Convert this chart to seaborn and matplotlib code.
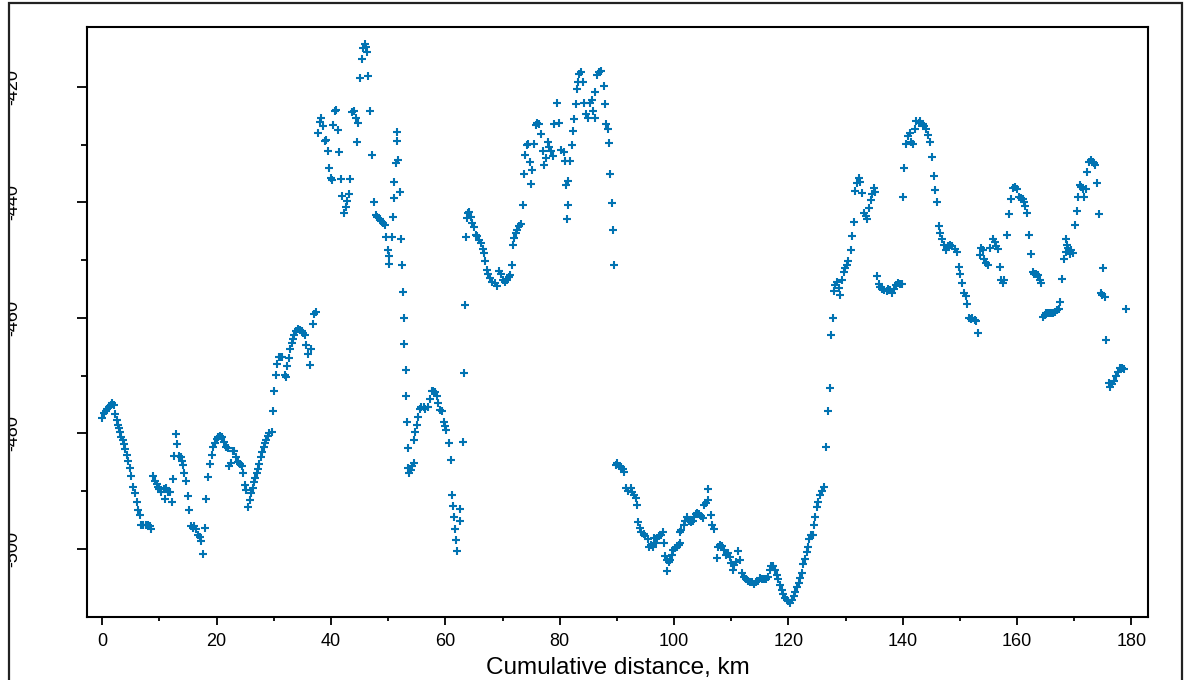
import matplotlib
matplotlib.use("Agg")
import matplotlib.pyplot as plt
import seaborn as sns
import pandas as pd
from matplotlib.ticker import MultipleLocator, FixedLocator
from matplotlib.patches import Rectangle

# ---- data ----
distance_km = [
    0.0, 0.3, 0.6, 0.9, 1.2, 1.5, 1.75, 2.0, 2.3, 2.5, 2.75, 2.9, 3.1, 3.3, 3.55, 3.8, 3.9, 4.25, 4.5, 4.8,
    5.1, 5.4, 5.7, 6.0, 6.3, 6.6, 6.8, 7.2, 7.6, 8.0, 8.35, 8.6, 8.9, 9.2, 9.5, 9.75, 10.0, 10.3, 10.8, 10.9,
    11.2, 11.5, 11.8, 12.1, 12.3, 12.55, 12.9, 13.1, 13.4, 13.7, 13.95, 14.1, 14.3, 14.6, 14.9, 15.2, 15.5, 15.8, 16.1, 16.4,
    16.75, 17.0, 17.3, 17.6, 17.9, 18.2, 18.5, 18.85, 19.1, 19.4, 19.7, 20.0, 20.3, 20.6, 20.9, 21.3, 21.6, 21.9, 22.2, 22.5,
    22.8, 23.1, 23.4, 23.75, 24.1, 24.5, 24.65, 24.9, 25.2, 25.45, 25.75, 26.0, 26.3, 26.5, 26.75, 27.0, 27.2, 27.45, 27.7, 27.95,
    28.2, 28.4, 28.7, 29.0, 29.2,
    29.6, 29.8, 30.0, 30.3, 30.6, 30.9, 31.2, 31.5, 31.9, 32.1, 32.3, 32.6, 32.8, 33.1, 33.3, 33.6, 33.9, 34.2, 34.6, 34.85,
    35.1, 35.4, 35.7, 35.95, 36.3, 36.5, 36.8, 37.1, 37.4,
    37.7, 38.0, 38.3, 38.6, 38.9, 39.2, 39.5, 39.7, 40.0, 40.2, 40.3, 40.7, 40.9, 41.2, 41.4, 41.7, 42.0, 42.3, 42.6, 42.8,
    43.1, 43.4, 43.7, 43.95, 44.3, 44.6, 44.8, 45.1, 45.4, 45.6, 45.9, 46.2, 46.35, 46.5, 46.8, 47.2, 47.5, 47.8, 48.1, 48.5,
    48.8, 49.1, 49.4, 49.6, 50.0, 50.2, 50.1, 50.6, 50.85, 51.0, 51.1, 51.3, 51.5, 51.6, 51.7, 52.1, 52.25, 52.4, 52.6, 52.7,
    52.8, 53.1, 53.2, 53.3, 53.4, 53.5, 53.7, 53.95, 54.2, 54.5, 54.5, 54.75, 55.0, 55.2, 55.5, 55.8, 56.2, 56.5, 56.9, 57.3,
    57.6, 57.9, 58.2, 58.5, 58.8, 59.1, 59.4, 59.7, 59.95, 60.2, 60.6, 60.9, 61.1, 61.3, 61.5, 61.7, 61.9, 62.0,
    62.6, 62.6, 63.0, 63.2, 63.4, 63.6, 63.75, 63.9, 64.15, 64.4, 64.7, 65.0, 65.3, 65.6, 65.96, 66.2, 66.5, 66.7, 67.0, 67.25,
    67.5, 67.8, 68.2, 68.65, 69.1, 69.4, 69.7, 70.05, 70.4, 70.75, 71.1, 71.3, 71.6, 71.75, 72.0, 72.3, 72.6, 72.9, 73.2, 73.5,
    73.8, 74.0, 74.25, 74.5, 74.8, 75.1, 75.0, 75.5, 75.8, 76.1, 76.4, 76.7, 77.0, 77.3, 77.6, 77.9, 78.2, 78.5, 78.9, 79.0,
    79.5, 79.9, 80.3, 80.7, 80.9, 81.1, 81.5, 81.5, 81.3, 81.8, 82.1, 82.4, 82.5, 82.8, 83.0, 83.2, 83.4, 83.8, 84.1, 84.2,
    84.6, 84.9, 85.3, 85.6, 85.9, 86.2, 86.2, 86.5, 86.9, 87.3, 87.7, 87.9, 88.15, 88.4, 88.7, 88.8, 89.1, 89.3, 89.5, 89.8,
    90.1, 90.4, 90.7, 91.0, 91.3, 91.6, 91.9,
    92.45, 92.7, 93.0, 93.3, 93.5, 93.7, 94.0, 94.3, 94.7, 95.0, 95.4, 95.7, 96.0, 96.25, 96.5, 96.8, 97.1, 97.4, 97.7, 98.0,
    98.3, 98.5, 98.8, 98.8, 99.05, 99.3, 99.6, 99.9, 100.2, 100.5, 100.8, 101.1, 101.1, 101.3, 101.7, 102.0, 102.25, 102.7, 103.0, 103.25,
    103.5, 103.8, 104.1, 104.4, 104.7, 105.0, 105.3, 105.6, 105.9, 106.0, 106.5, 106.7, 107.05, 107.5, 107.75, 108.1, 108.45, 108.8, 109.1, 109.4,
    109.7, 110.0, 110.25, 110.55, 110.85, 111.1, 111.5, 111.8, 112.2, 112.6, 112.9, 113.2, 113.6, 113.9, 114.3, 114.6, 115.0, 115.3, 115.7, 116.0,
    116.4, 116.7, 117.0, 117.3, 117.7, 118.0, 118.25, 118.5, 118.8, 119.1, 119.4, 119.7, 120.0, 120.35, 120.7, 120.95, 121.2, 121.5, 121.8, 122.1,
    122.3, 122.6, 122.9, 123.2, 123.4, 123.6, 123.9,
    124.3, 124.45, 124.7, 125.0, 125.25, 125.55, 125.8, 126.2, 126.6, 126.9, 127.2, 127.5, 127.8, 128.0, 128.2, 128.5, 128.8, 129.1, 129.3, 129.7,
    129.9, 130.3, 130.5, 130.9, 131.1, 131.4, 131.7, 132.0, 132.3, 132.6, 132.9, 133.2, 133.5, 133.8, 134.1, 134.4, 134.6, 134.9, 135.2, 135.5,
    135.8, 136.1, 136.4, 136.8, 137.2, 137.5, 137.8, 138.1, 138.45, 138.8, 139.2, 139.5, 139.85, 140.0, 140.3, 140.55, 140.9, 141.2, 141.5, 141.8,
    142.1, 142.4, 142.8, 143.1, 143.5, 143.8, 144.1, 144.4, 144.7, 145.1, 145.4, 145.7, 146.0, 146.3, 146.6, 146.85, 147.15, 147.5, 147.9, 148.3,
    148.7, 149.2, 149.5, 149.8, 150.1, 150.4, 150.7, 151.0, 151.2, 151.6, 151.9, 152.2, 152.6, 152.9, 153.2, 153.5, 153.7, 154.0, 154.3, 154.6,
    154.9, 155.3,
    155.8, 156.1, 156.4, 156.7, 156.95, 157.2, 157.5, 157.8, 158.2, 158.5, 158.9, 159.2, 159.6, 159.9, 160.3, 160.6, 161.0, 161.2, 161.4, 161.7,
    162.0, 162.4, 162.7, 163.0, 163.3, 163.6, 164.0, 164.25, 164.5, 164.8, 165.1, 165.4, 165.7, 166.0, 166.3, 166.6, 166.9, 167.3, 167.5, 167.9,
    168.2, 168.6, 168.9, 169.3, 169.5, 169.8, 168.6, 168.8, 170.1, 170.4, 170.7, 171.0, 171.25, 171.6, 172.0, 171.7, 172.3, 172.6, 172.9, 173.2,
    173.5, 173.7, 174.0, 174.3, 174.6, 174.9, 175.3, 175.05, 175.6, 176.0, 176.3, 176.6, 176.95, 177.3, 177.7, 178.0, 178.4, 178.7, 179.0,
]

value = [
    -477.4, -476.5, -476.1, -475.8, -475.5, -475.1, -474.8, -475.0, -476.7, -477.7, -478.5, -479.0, -479.7, -480.6, -481.1, -481.8, -482.7, -483.7, -484.7, -486.0,
    -487.4, -489.2, -490.4, -491.8, -493.2, -494.2, -495.8, -495.9, -495.9, -495.9, -496.0, -496.5, -487.4, -488.3, -488.7, -489.2, -489.7, -490.1, -489.7, -491.3,
    -489.5, -490.1, -490.2, -491.9, -487.9, -483.9, -480.1, -481.8, -483.9, -484.1, -484.7, -485.4, -486.9, -488.2, -490.9, -493.2, -496.0, -496.3, -496.1, -496.5,
    -497.6, -498.0, -498.6, -500.9, -496.4, -491.3, -487.5, -485.3, -483.8, -482.4, -481.6, -481.0, -480.7, -480.4, -480.7, -481.4, -482.3, -482.6, -485.6, -485.2,
    -483.1, -483.1, -484.0, -485.0, -485.3, -485.6, -486.9, -488.9, -489.8, -492.7, -491.5, -490.4, -489.5, -488.5, -487.8, -486.9, -486.2, -485.3, -484.1, -483.3,
    -482.3, -481.7, -481.1, -480.5, -479.9,
    -479.7, -476.1, -472.7, -469.8, -468.0, -466.8, -466.7, -466.8, -469.8, -470.3, -468.3, -467.0, -465.3, -464.4, -463.7, -462.9, -462.3, -461.9, -462.1, -462.3,
    -462.6, -462.9, -464.7, -466.2, -468.2, -465.3, -461.1, -459.3, -458.9,
    -427.95, -426.0, -425.3, -426.8, -429.3, -429.2, -431.0, -434.1, -435.7, -436.1, -426.5, -424.2, -423.9, -427.5, -431.2, -436.0, -438.9, -441.9, -440.7, -439.7,
    -438.5, -436.0, -424.4, -424.1, -425.4, -429.5, -426.3, -418.5, -415.1, -413.3, -412.5, -413.0, -414.0, -418.1, -424.1, -431.7, -439.9, -442.2, -442.5, -442.8,
    -443.2, -443.5, -443.9, -445.9, -448.3, -449.3, -450.7, -445.9, -442.5, -439.2, -436.5, -433.2, -429.3, -427.8, -432.6, -438.1, -446.4, -450.9, -455.5, -460.0,
    -464.5, -469.1, -473.5, -478.0, -482.6, -486.0, -486.9, -486.3, -485.7, -485.1, -481.2, -479.8, -478.5, -477.1, -475.8, -475.5, -475.5, -475.7, -475.5, -474.0,
    -472.7, -472.7, -472.8, -473.6, -474.7, -475.9, -476.2, -478.1, -478.7, -479.4, -481.7, -484.6, -490.6, -492.5, -494.4, -496.5, -498.5, -500.4,
    -493.1, -495.1, -481.4, -469.6, -457.8, -445.9, -442.7, -441.9, -441.6, -442.5, -443.5, -444.3, -445.6, -445.8, -446.5, -447.1, -448.0, -448.8, -450.2, -451.7,
    -452.3, -453.1, -453.7, -454.0, -454.5, -451.9, -452.3, -453.4, -453.7, -453.4, -452.9, -452.5, -450.9, -447.3, -446.1, -445.3, -444.7, -444.1, -443.7, -440.4,
    -435.1, -431.85, -430.1, -429.8, -432.9, -434.3, -436.8, -429.9, -426.6, -426.2, -426.4, -428.1, -431.0, -433.5, -432.3, -429.5, -430.4, -431.05, -432.0, -426.4,
    -422.8, -426.2, -430.9, -431.2, -432.8, -437.0, -436.3, -440.5, -442.8, -432.8, -430.1, -427.6, -425.6, -423.0, -420.4, -419.1, -417.7, -417.4, -419.1, -422.7,
    -424.7, -425.3, -422.8, -422.3, -424.2, -425.4, -420.8, -418.0, -417.4, -417.25, -419.9, -422.9, -426.4, -427.2, -429.7, -435.1, -440.1, -444.8, -450.75, -485.4,
    -485.1, -485.6, -485.9, -486.2, -486.7, -489.5, -490.0,
    -489.5, -490.1, -490.6, -491.2, -492.4, -495.4, -496.4, -497.0, -497.4, -497.8, -498.3, -499.6, -499.3, -499.6, -498.1, -499.0, -498.1, -497.8, -497.6, -497.0,
    -499.0, -501.2, -501.9, -503.9, -502.2, -501.9, -501.0, -500.2, -499.9, -499.6, -499.3, -499.0, -497.0, -496.7, -495.8, -495.1, -494.5, -495.1, -495.4, -495.2,
    -494.4, -493.9, -493.8, -494.0, -494.3, -494.7, -492.4, -492.1, -491.5, -489.65, -494.1, -495.8, -496.6, -501.6, -499.6, -499.3, -499.5, -500.2, -501.0, -500.7,
    -501.4, -502.5, -503.6, -502.75, -502.2, -500.4, -501.9, -504.2, -504.9, -505.3, -505.6, -505.8, -505.8, -506.0, -505.8, -505.5, -505.1, -505.3, -505.2, -505.3,
    -504.8, -503.6, -502.9, -503.0, -503.7, -504.5, -505.3, -506.2, -507.1, -507.9, -508.5, -508.8, -509.1, -509.3, -508.9, -508.2, -507.4, -506.6, -505.9, -505.1,
    -504.2, -502.7, -501.8, -500.6, -499.7, -498.3, -497.6,
    -497.6, -495.8, -494.4, -492.8, -491.8, -490.6, -489.9, -489.2, -482.3, -476.2, -472.2, -462.9, -460.0, -455.4, -454.3, -453.7, -454.85, -456.0, -453.4, -452.0,
    -451.4, -450.8, -450.1, -448.3, -445.8, -443.3, -437.95, -436.6, -435.8, -436.4, -438.3, -441.9, -442.3, -442.9, -441.0, -439.6, -438.5, -437.5, -438.1, -452.8,
    -454.1, -454.6, -455.0, -455.1, -455.3, -454.9, -455.1, -455.6, -455.0, -454.3, -454.0, -454.2, -454.1, -439.1, -434.0, -429.9, -428.5, -428.0, -429.5, -429.9,
    -427.2, -425.8, -426.2, -425.8, -426.4, -426.75, -427.2, -428.3, -429.5, -432.2, -435.4, -437.9, -439.85, -444.1, -445.3, -446.4, -447.35, -448.3, -447.6, -447.35,
    -447.6, -448.1, -448.5, -451.1, -452.3, -453.9, -455.6, -456.2, -457.6, -460.0, -460.2, -460.0, -460.4, -460.6, -462.6, -449.1, -447.9, -448.2, -449.8, -450.5,
    -450.8, -447.9,
    -446.4, -446.8, -447.6, -448.1, -451.1, -453.4, -453.9, -453.4, -445.6, -442.0, -439.4, -437.5, -437.4, -437.7, -439.0, -439.2, -439.4, -440.0, -440.6, -441.75,
    -445.6, -448.9, -451.97, -452.3, -452.4, -452.5, -453.4, -453.9, -459.8, -459.5, -459.2, -459.2, -459.1, -459.1, -459.2, -458.9, -458.6, -458.5, -457.3, -453.2,
    -449.8, -448.5, -447.9, -448.9, -448.2, -448.8, -446.4, -447.35, -443.9, -441.4, -439.0, -437.0, -437.4, -437.7, -437.7, -439.0, -434.8, -432.9, -432.6, -432.9,
    -433.2, -433.5, -436.6, -442.0, -455.7, -456.0, -456.3, -451.4, -463.9, -471.3, -472.0, -471.4, -471.0, -470.0, -469.3, -468.7, -468.7, -468.9, -458.4,
]

x_ticks = [0, 20, 40, 60, 80, 100, 120, 140, 160, 180]
y_ticks = [-500, -480, -460, -440, -420]
y_minor = [-490, -470, -450, -430]
x_label = "Cumulative distance, km"

# ---- figure ----
sns.set_theme(style="white")
plt.rcParams['font.family'] = ['Liberation Sans', 'DejaVu Sans']
plt.rcParams['axes.unicode_minus'] = False

W, H = 1190, 680
fig = plt.figure(figsize=(W / 100, H / 100), dpi=100)
fig.patch.set_facecolor("white")
ax = fig.add_axes([87 / W, (H - 617) / H, (1148 - 87) / W, (617 - 27) / H])
ax.set_facecolor("white")

df = pd.DataFrame({"distance": distance_km, "value": value})
sns.scatterplot(data=df, x="distance", y="value", marker="+", color="#0173b2",
                s=36, linewidth=1.5, ax=ax, legend=False)

ax.set_xlim(-2.68, 182.9)
ax.set_ylim(-511.8, -409.6)
ax.set_xticks(x_ticks)
ax.set_yticks(y_ticks)
ax.xaxis.set_minor_locator(MultipleLocator(10))
ax.yaxis.set_minor_locator(FixedLocator(y_minor))

for sp in ax.spines.values():
    sp.set_visible(True)
    sp.set_color("black")
    sp.set_linewidth(1.5)

ax.tick_params(which="both", direction="out", color="black", labelcolor="black",
               bottom=True, left=True, top=False, right=False, width=1.3)
ax.tick_params(axis="x", which="major", length=5.5, pad=6, labelsize=13)
ax.tick_params(axis="x", which="minor", length=3)
ax.tick_params(axis="y", which="major", length=7.5, pad=40, labelsize=13, labelrotation=90)
ax.tick_params(axis="y", which="minor", length=4.5)
for lab in ax.get_yticklabels():
    lab.set_va("center")

ax.set_xlabel(x_label, fontsize=17.5, labelpad=5, color="black")
ax.set_ylabel("")

# white margin left of the frame (labels are cut by the frame in the reference)
fig.add_artist(Rectangle((0, 0), 9 / W, 1, transform=fig.transFigure,
                         facecolor="white", edgecolor="none", zorder=20))
# outer frame
fig.add_artist(Rectangle((9 / W, -0.05), (1182 - 9) / W, 1.05 - 3 / H,
                         transform=fig.transFigure, fill=False,
                         edgecolor="#222222", linewidth=1.6, zorder=21))

fig.savefig("out.png", dpi=100, facecolor="white")
